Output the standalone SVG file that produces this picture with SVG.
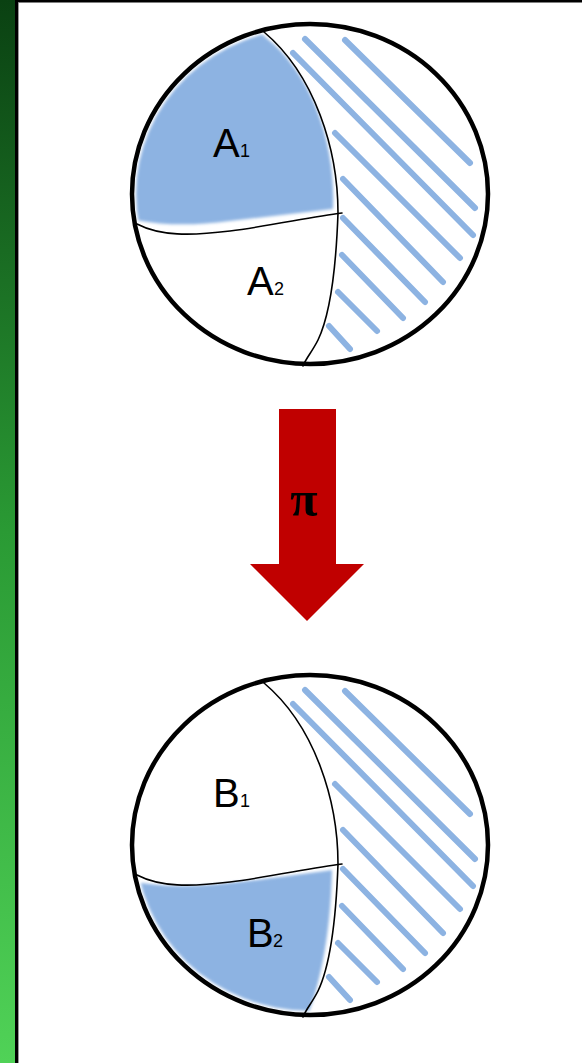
<svg xmlns="http://www.w3.org/2000/svg" width="582" height="1063" viewBox="0 0 582 1063">
<defs>
<linearGradient id="gbar" x1="0" y1="0" x2="0" y2="1">
<stop offset="0" stop-color="#0a4112"/>
<stop offset="0.5" stop-color="#2a9a34"/>
<stop offset="1" stop-color="#50d257"/>
</linearGradient>
<filter id="soft" x="-10%" y="-10%" width="120%" height="120%"><feGaussianBlur stdDeviation="1.8"/></filter>
<filter id="softl" x="-10%" y="-10%" width="120%" height="120%"><feGaussianBlur stdDeviation="0.7"/></filter>
<clipPath id="inA"><ellipse cx="310" cy="194" rx="174" ry="166"/></clipPath>
<clipPath id="inB"><ellipse cx="310" cy="845" rx="174" ry="166"/></clipPath>
<style>
.rim{fill:none;stroke:#000;stroke-width:4.5}
.thin{fill:none;stroke:#000;stroke-width:1.6;stroke-linecap:round;stroke-linejoin:round}
.hatch{fill:none;stroke:#8db3e2;stroke-width:6;stroke-linecap:round}
.fillb{fill:#8db3e2}
.lbl{font-family:"Liberation Sans",Arial,sans-serif;font-size:40px;fill:#000}
.sub{font-size:18px}
</style>
</defs>
<rect x="0" y="0" width="582" height="1063" fill="#fff"/>
<rect x="0" y="0" width="16" height="1063" fill="url(#gbar)"/>
<line x1="16.5" y1="0" x2="16.5" y2="1063" stroke="#000" stroke-width="3"/>
<line x1="18.5" y1="3" x2="18.5" y2="1063" stroke="#999" stroke-width="1"/>
<line x1="15" y1="1.2" x2="582" y2="1.2" stroke="#000" stroke-width="2.5"/>

<g id="globe-top">
<g filter="url(#soft)"><path class="fillb" clip-path="url(#inA)" d="M250,20 L264,36 C315,75 336,150 333,209 L230,221 C190,226 160,226 120,217 L120,20 Z"/></g>
<g filter="url(#softl)" class="hatch">
<line x1="345" y1="40" x2="470" y2="163"/>
<line x1="305" y1="39" x2="475" y2="208"/>
<line x1="293" y1="53" x2="473" y2="235"/>
<line x1="335" y1="133" x2="460" y2="258"/>
<line x1="343" y1="179" x2="443" y2="282"/>
<line x1="343" y1="218" x2="425" y2="302"/>
<line x1="342" y1="255" x2="403" y2="318"/>
<line x1="338" y1="292" x2="377" y2="331"/>
<line x1="329" y1="326" x2="350" y2="349"/>
</g>
<path class="thin" d="M264,32 C315,75 338,150 338,213 C336,270 330,315 318,340 C312,352 306,358 303,366 L305,364"/>
<path class="thin" d="M137,224 C160,236 190,236 230,231 S310,217 342,213"/>
<ellipse class="rim" cx="310" cy="194" rx="178" ry="170"/>
<text class="lbl" x="213" y="157">A<tspan class="sub" x="240">1</tspan></text>
<text class="lbl" x="247" y="295">A<tspan class="sub" x="274">2</tspan></text>
</g>

<g id="arrow-pi">
<polygon points="279,409 336,409 336,564 364,564 307,621 250,564 279,564" fill="#c00000"/>
<text x="304" y="516" text-anchor="middle" font-family="'Liberation Serif','Times New Roman',serif" font-weight="bold" font-size="50">π</text>
</g>

<g id="globe-bottom">
<g filter="url(#soft)"><path class="fillb" clip-path="url(#inB)" d="M120,880 L150,884 C190,889 230,884 332,870 C331,920 324,975 306,1020 L120,1020 Z"/></g>
<g filter="url(#softl)" class="hatch">
<line x1="345" y1="691" x2="470" y2="814"/>
<line x1="305" y1="690" x2="475" y2="859"/>
<line x1="293" y1="704" x2="473" y2="886"/>
<line x1="335" y1="784" x2="460" y2="909"/>
<line x1="343" y1="830" x2="443" y2="933"/>
<line x1="343" y1="869" x2="425" y2="953"/>
<line x1="342" y1="906" x2="403" y2="969"/>
<line x1="338" y1="943" x2="377" y2="982"/>
<line x1="329" y1="977" x2="350" y2="1000"/>
</g>
<path class="thin" d="M264,683 C315,726 338,801 338,864 C336,921 330,966 318,991 C312,1003 306,1009 303,1017 L305,1015"/>
<path class="thin" d="M137,875 C160,887 190,887 230,882 S310,868 342,864"/>
<ellipse class="rim" cx="310" cy="845" rx="178" ry="170"/>
<text class="lbl" x="213" y="807">B<tspan class="sub" x="240">1</tspan></text>
<text class="lbl" x="247" y="947">B<tspan class="sub" x="273">2</tspan></text>
</g>
</svg>
